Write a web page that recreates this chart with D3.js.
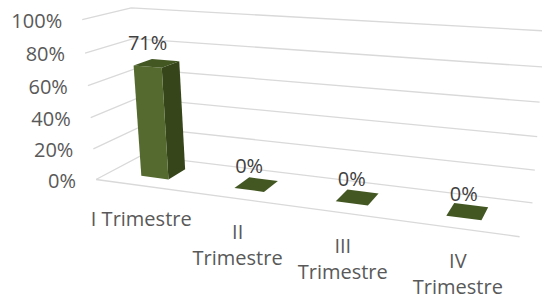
<!DOCTYPE html>
<html>
<head>
<meta charset="utf-8">
<script src="https://cdn.jsdelivr.net/npm/d3@7"></script>
<style>
  body { margin: 0; background: #fff; }
  text { font-family: "Open Sans", "Noto Sans", sans-serif; }
</style>
</head>
<body>
<div id="chart"></div>
<script>
// data
const categories = ["I Trimestre", "II Trimestre", "III Trimestre", "IV Trimestre"];
const categoryLines = [["I Trimestre"], ["II", "Trimestre"], ["III", "Trimestre"], ["IV", "Trimestre"]];
const values = [0.71, 0, 0, 0];
const yTicks = [0, 0.2, 0.4, 0.6, 0.8, 1];

const width = 542, height = 301;

// where the corners of the 3d box sit in the picture: [u, v, w, px, py]
// u = category axis, v = value axis, w = depth (0 front, 1 back)
const frame = [
    [0, 0, 0, 95, 181],
    [0, 1, 0, 83, 20],
    [0, 1, 1, 130, 8],
    [0, 0, 1, 143, 154],
    [1, 1, 1, 545, 31],
    [1, 0, 1, 532, 204],
    [1, 0, 0, 520, 235],
    [0, 0.2, 0, 93, 149],
    [0, 0.4, 0, 90, 117],
    [0, 0.6, 0, 88, 86],
    [0, 0.8, 0, 86, 53],
    [1, 0.2, 1, 535, 171],
    [1, 0.4, 1, 537, 137],
    [1, 0.8, 1, 542, 66]
];

// least squares fit of a 3x4 projection matrix (DLT)
function fitCamera(pts) {
    const n = 11;
    const M = d3.range(n).map(() => new Array(n + 1).fill(0));
    pts.forEach(([X, Y, Z, x, y]) => {
        const rows = [
            [[X, Y, Z, 1, 0, 0, 0, 0, -x * X, -x * Y, -x * Z], x],
            [[0, 0, 0, 0, X, Y, Z, 1, -y * X, -y * Y, -y * Z], y]
        ];
        rows.forEach(([r, b]) => {
            for (let i = 0; i < n; i++) {
                for (let j = 0; j < n; j++) M[i][j] += r[i] * r[j];
                M[i][n] += r[i] * b;
            }
        });
    });
    for (let c = 0; c < n; c++) {
        let piv = c;
        for (let r = c + 1; r < n; r++) if (Math.abs(M[r][c]) > Math.abs(M[piv][c])) piv = r;
        [M[c], M[piv]] = [M[piv], M[c]];
        for (let r = 0; r < n; r++) {
            if (r === c) continue;
            const f = M[r][c] / M[c][c];
            for (let k = c; k <= n; k++) M[r][k] -= f * M[c][k];
        }
    }
    return M.map((row, i) => row[n] / row[i]);
}

const P = fitCamera(frame);
function project(u, v, w) {
    const h = P[8] * u + P[9] * v + P[10] * w + 1;
    return [(P[0] * u + P[1] * v + P[2] * w + P[3]) / h,
            (P[4] * u + P[5] * v + P[6] * w + P[7]) / h];
}

let x = d3.scaleBand()
    .domain(categories)
    .range([0, 1])
    .paddingInner(0.7)
    .paddingOuter(0.35);

let depth = d3.scaleBand()
    .domain(["s1"])
    .range([0, 1])
    .paddingOuter(0.75);

let y = d3.scaleLinear()
    .domain([0, 1])
    .range([0, 1]);

const fmt = d3.format(".0%");
const line = d3.line();

let svg = d3.select("#chart")
    .append("svg")
    .attr("width", width)
    .attr("height", height);

// gridlines: side wall then back wall
let grid = svg.append("g");
yTicks.forEach(t => {
    grid.append("path")
        .attr("d", line([project(0, y(t), 0), project(0, y(t), 1), project(1, y(t), 1)]))
        .attr("fill", "none")
        .attr("stroke", "#d9d9d9")
        .attr("stroke-width", 1.3);
});
// floor front edge
grid.append("path")
    .attr("d", line([project(0, 0, 0), project(1, 0, 0)]))
    .attr("fill", "none")
    .attr("stroke", "#d9d9d9")
    .attr("stroke-width", 1.3);

// y labels
svg.append("g").selectAll("text")
    .data(yTicks)
    .enter()
    .append("text")
    .attr("x", d => project(0, y(d), 0)[0] - 20)
    .attr("y", d => project(0, y(d), 0)[1] + 8)
    .style("text-anchor", "end")
    .style("font-size", "20px")
    .attr("fill", "#595959")
    .text(d => fmt(d));

// bars
const w0 = depth("s1"), w1 = depth("s1") + depth.bandwidth();
let bars = svg.append("g").selectAll("g")
    .data(values.map((v, i) => ({cat: categories[i], value: v})))
    .enter()
    .append("g");

bars.each(function(d) {
    const g = d3.select(this);
    const u0 = x(d.cat), u1 = x(d.cat) + x.bandwidth();
    const v = y(d.value);
    if (v > 0) {
        g.append("path") // side
            .attr("d", line([project(u1, 0, w0), project(u1, 0, w1), project(u1, v, w1), project(u1, v, w0)]) + "Z")
            .attr("fill", "#36461a");
        g.append("path") // front
            .attr("d", line([project(u0, 0, w0), project(u1, 0, w0), project(u1, v, w0), project(u0, v, w0)]) + "Z")
            .attr("fill", "#546a2e");
    }
    g.append("path") // top
        .attr("d", line([project(u0, v, w0), project(u1, v, w0), project(u1, v, w1), project(u0, v, w1)]) + "Z")
        .attr("fill", "#435723");
});

// data labels
bars.append("text")
    .attr("x", d => project(x(d.cat) + x.bandwidth() / 2, y(d.value), w0)[0])
    .attr("y", d => project(x(d.cat) + x.bandwidth() / 2, y(d.value), w0)[1] - 17)
    .style("text-anchor", "middle")
    .style("font-size", "20px")
    .attr("fill", "#404040")
    .text(d => fmt(d.value));

// category labels
let catLabels = svg.append("g").selectAll("text")
    .data(categories)
    .enter()
    .append("text")
    .attr("transform", d => {
        const p = project(x(d) + x.bandwidth() / 2, 0, 0);
        return `translate(${p[0]}, ${p[1] + 40})`;
    })
    .style("text-anchor", "middle")
    .style("font-size", "20px")
    .attr("fill", "#595959");

catLabels.selectAll("tspan")
    .data((d, i) => categoryLines[i])
    .enter()
    .append("tspan")
    .attr("x", 0)
    .attr("dy", (d, i) => i === 0 ? 0 : 26)
    .text(d => d);
</script>
</body>
</html>
